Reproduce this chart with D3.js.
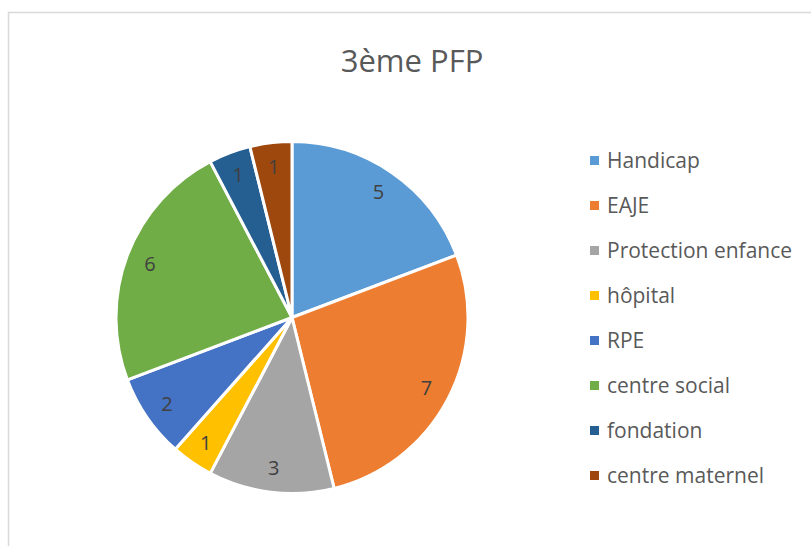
<!DOCTYPE html>
<html>
<head>
    <meta charset="utf-8">
    <title>3ème PFP</title>
    <script src="https://d3js.org/d3.v7.min.js"></script>
    <style>
        body { margin: 0; background: #fff; }
        text { font-family: "Open Sans", "Liberation Sans", sans-serif; }
    </style>
</head>
<body>
    <svg id="chart"></svg>
    <script>
        const categories = ["Handicap", "EAJE", "Protection enfance", "hôpital", "RPE", "centre social", "fondation", "centre maternel"];
        const values = [5, 7, 3, 1, 2, 6, 1, 1];
        const colors = ["#5B9BD5", "#ED7D31", "#A5A5A5", "#FFC000", "#4472C4", "#70AD47", "#255E91", "#9E480E"];
        const title = "3ème PFP";

        const svgWidth = 811;
        const svgHeight = 546;
        const cx = 292, cy = 317.5, radius = 176;

        const svg = d3.select("#chart")
            .attr("width", svgWidth)
            .attr("height", svgHeight);

        // chart frame
        svg.append("path")
            .attr("d", `M8.5,${svgHeight} V12.5 H${svgWidth}`)
            .attr("fill", "none")
            .attr("stroke", "#d9d9d9")
            .attr("stroke-width", 1.5);

        svg.append("text")
            .attr("x", 412)
            .attr("y", 72)
            .attr("text-anchor", "middle")
            .style("font-size", "31px")
            .style("fill", "#595959")
            .text(title);

        const data = categories.map((c, i) => ({ name: c, value: values[i], color: colors[i] }));

        const pie = d3.pie().sort(null).value(d => d.value);
        const arc = d3.arc().innerRadius(0).outerRadius(radius);
        const labelArc = d3.arc().innerRadius(152).outerRadius(152);

        const g = svg.append("g").attr("transform", `translate(${cx}, ${cy})`);

        const slices = g.selectAll("g.slice")
            .data(pie(data))
            .join("g")
            .attr("class", "slice");

        slices.append("path")
            .attr("d", arc)
            .attr("fill", d => d.data.color)
            .attr("stroke", "#fff")
            .attr("stroke-width", 3)
            .attr("stroke-linejoin", "round");

        slices.append("text")
            .attr("transform", d => `translate(${labelArc.centroid(d)})`)
            .attr("text-anchor", "middle")
            .attr("dy", "0.35em")
            .style("font-size", "20px")
            .style("fill", "#404040")
            .text(d => d.data.value);

        const legend = svg.append("g")
            .attr("transform", "translate(590, 161)");

        const rows = legend.selectAll("g")
            .data(data)
            .join("g")
            .attr("transform", (d, i) => `translate(0, ${i * 45})`);

        rows.append("rect")
            .attr("x", 0)
            .attr("y", -5)
            .attr("width", 9)
            .attr("height", 9)
            .attr("fill", d => d.color);

        rows.append("text")
            .attr("x", 17)
            .attr("dy", "0.35em")
            .style("font-size", "21px")
            .style("fill", "#595959")
            .text(d => d.name);
    </script>
</body>
</html>
